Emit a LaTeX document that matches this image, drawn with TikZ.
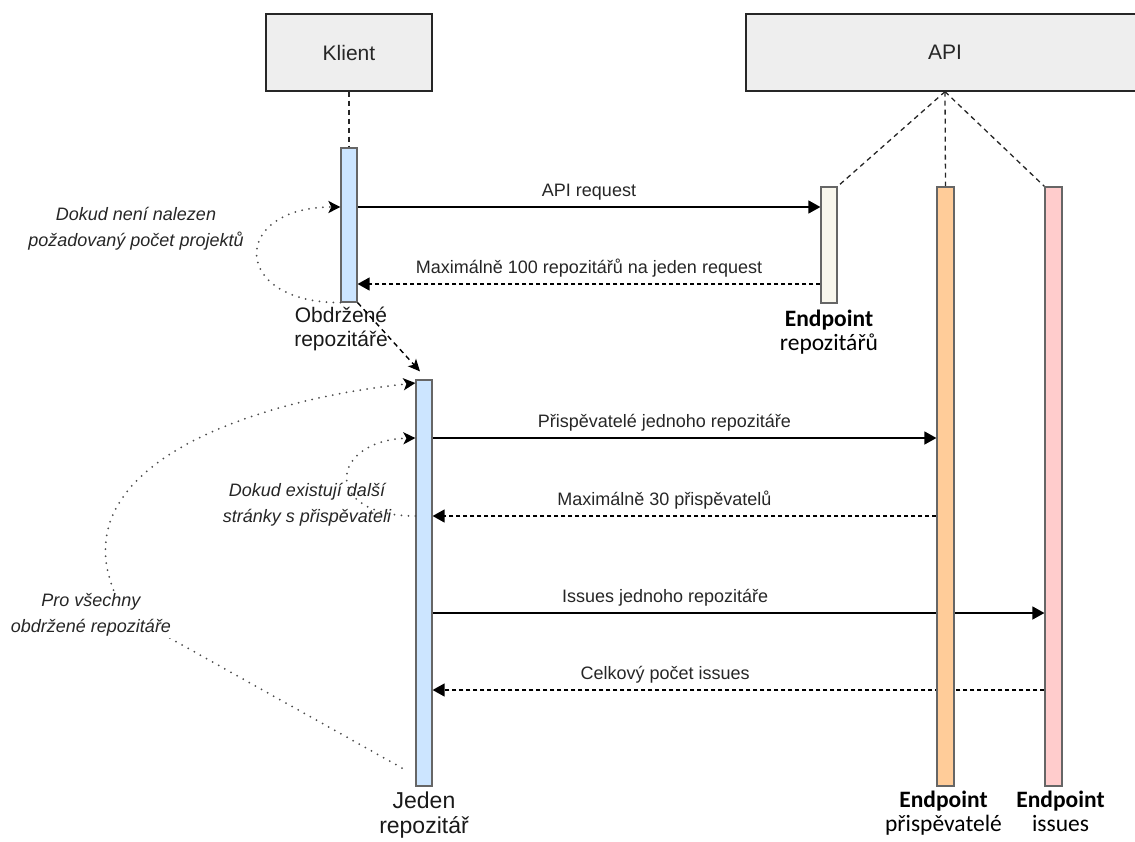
\documentclass[tikz,border=0pt]{standalone}
\usepackage{fontspec}
\setmainfont{Liberation Sans}
\newfontfamily\calibfont{Carlito}
\usetikzlibrary{arrows.meta,positioning,backgrounds}

\definecolor{klientblue}{HTML}{CCE5FF}
\definecolor{repocream}{HTML}{F9F7ED}
\definecolor{prisporange}{HTML}{FFCC99}
\definecolor{issuespink}{HTML}{FFCCCC}
\definecolor{headgray}{HTML}{EEEEEE}
\definecolor{edgegray}{HTML}{666666}
\definecolor{textgray}{HTML}{262626}

\tikzset{
	head/.style={draw=textgray,line width=1.3pt,fill=headgray,minimum height=77pt,text=textgray,font=\fontsize{21}{25}\selectfont},
	bar/.style={draw=edgegray,line width=1.2pt,minimum width=16pt,inner sep=0pt},
	lifeline/.style={draw=textgray,line width=1.3pt,dash pattern=on 5pt off 4pt},
	msg/.style={line width=1.4pt,-{Triangle[length=12pt,width=13pt]}},
	reply/.style={msg,dash pattern=on 4pt off 3pt},
	msgtext/.style={above,inner sep=6pt,text depth=4pt,text=textgray,font=\fontsize{18}{22}\selectfont},
	loopline/.style={draw=black!70,line width=2pt,line cap=round,dash pattern=on 0pt off 7pt,-{Stealth[length=12pt,width=12pt,inset=3pt,black]}},
	looptext/.style={align=center,text=textgray,font=\itshape\fontsize{18}{26}\selectfont},
	barlabel/.style={align=center,inner sep=2pt,text=black!90,font=\fontsize{21}{24}\selectfont},
	endlabel/.style={align=center,inner sep=2pt,font=\calibfont\fontsize{23.5}{24}\selectfont}
}

\begin{document}
\begin{tikzpicture}[x=1pt,y=-1pt]
	\useasboundingbox (0,0) rectangle (1135,841);

	% hlavicky
	\node[head,minimum width=166pt]	(klient)	at (349,52.5)	{Klient};
	\node[head,minimum width=398pt]	(api)		at (945,52.5)	{API};

	% aktivace
	\node[bar,fill=klientblue,minimum height=154pt]		(klientBar)	at (349,225)	{};
	\node[bar,fill=repocream,minimum height=116pt]		(repoBar)	at (829,245)	{};
	\node[bar,fill=prisporange,minimum width=17pt,minimum height=599pt]	(prispBar)	at (945.5,486.5)	{};
	\node[bar,fill=issuespink,minimum width=17pt,minimum height=599pt]	(issuesBar)	at (1053.5,486.5)	{};
	\node[bar,fill=klientblue,minimum height=406pt]		(jedenBar)	at (424,583)	{};

	% popisky pod aktivacemi
	\node[barlabel,below=2pt of klientBar,xshift=-8pt]	(klientLabel)	{Obdržené\\repozitáře};
	\node[endlabel,below=4pt of repoBar]				(repoLabel)	{\bfseries Endpoint\\repozitářů};
	\node[barlabel,below=3pt of jedenBar,font=\fontsize{23}{25}\selectfont]	(jedenLabel)	{Jeden\\repozitář};
	\node[endlabel,below=2pt of prispBar,xshift=-2pt]	(prispLabel)	{\bfseries Endpoint\\přispěvatelé};
	\node[endlabel,below=2pt of issuesBar,xshift=7pt]	(issuesLabel)	{\bfseries Endpoint\\issues};

	% radky zprav
	\coordinate (rowReq)	at (0,207);
	\coordinate (rowRepos)	at (0,284);
	\coordinate (rowPrisp)	at (0,438);
	\coordinate (rowThirty)	at (0,516);
	\coordinate (rowIssues)	at (0,613);
	\coordinate (rowTotal)	at (0,690);
	\coordinate (rowAll)	at (0,383);
	\coordinate (allStart)	at (402,768);
	\coordinate (allBend)	at (125,613);

	\begin{pgfonlayer}{background}
		\draw[lifeline] (klient.south) -- (klientBar.north);
		\draw[lifeline] (api.south) -- (repoBar.north east);
		\draw[lifeline] (api.south) -- (prispBar.north);
		\draw[lifeline] (api.south) -- (issuesBar.north west);

		\draw[msg]	(klientBar.east |- rowReq)		-- node[msgtext] {API request} (repoBar.west |- rowReq);
		\draw[reply]	(repoBar.west |- rowRepos)		-- node[msgtext] {Maximálně 100 repozitářů na jeden request} (klientBar.east |- rowRepos);
		\draw[msg]	(jedenBar.east |- rowPrisp)		-- node[msgtext,pos=0.46] {Přispěvatelé jednoho repozitáře} (prispBar.west |- rowPrisp);
		\draw[reply]	(prispBar.west |- rowThirty)	-- node[msgtext,pos=0.54] {Maximálně 30 přispěvatelů} (jedenBar.east |- rowThirty);
		\draw[msg]	(jedenBar.east |- rowIssues)	-- node[msgtext,pos=0.38] {Issues jednoho repozitáře} (issuesBar.west |- rowIssues);
		\draw[reply]	(issuesBar.west |- rowTotal)	-- node[msgtext,pos=0.62] {Celkový počet issues} (jedenBar.east |- rowTotal);
	\end{pgfonlayer}

	% smycky
	\draw[reply,dash pattern=on 5pt off 4pt,-{Stealth[length=12pt,width=11pt,inset=3pt]}] (klientBar.south east) -- ([xshift=-4pt,yshift=8pt]jedenBar.north);
	\draw[loopline] (klientBar.south west) .. controls (230,303) and (230,207) .. (klientBar.west |- rowReq);
	\node[looptext] (loopOneText) at (136,229) {Dokud není nalezen\\požadovaný počet projektů};
	\draw[loopline] (jedenBar.west |- rowThirty) .. controls (320,516) and (330,440) .. (jedenBar.west |- rowPrisp);
	\node[looptext] (loopTwoText) at (307,505) {Dokud existují další\\stránky s přispěvateli};
	\draw[loopline] (allStart) -- (allBend) .. controls (40,470) and (250,400) .. (jedenBar.west |- rowAll);
	\node[looptext,fill=white,inner sep=2pt] (loopAllText) at (91,615) {Pro všechny\\obdržené repozitáře};
\end{tikzpicture}
\end{document}
